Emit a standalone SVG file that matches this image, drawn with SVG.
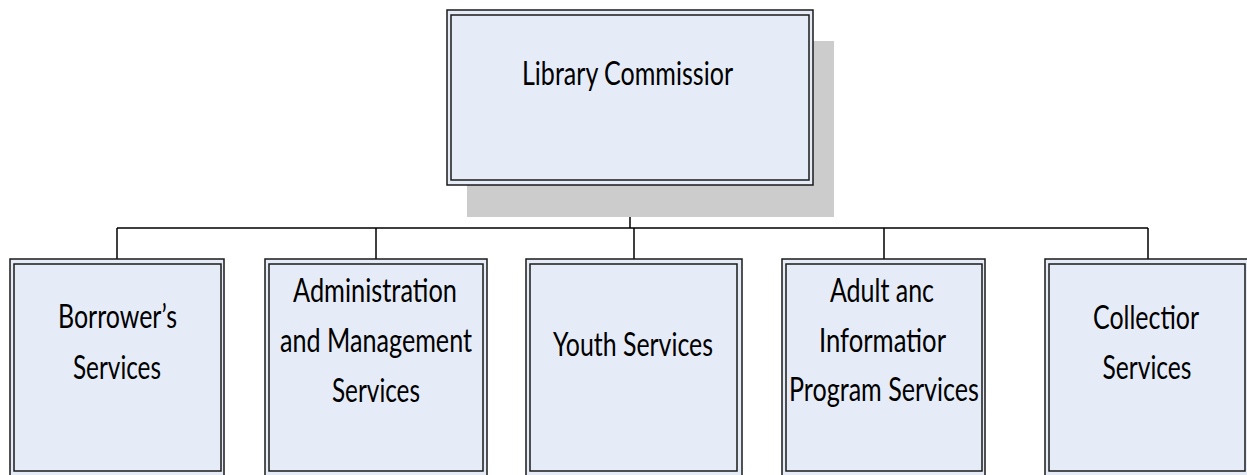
<svg xmlns="http://www.w3.org/2000/svg" width="1247" height="475" viewBox="0 0 1247 475">
<style>
.outer{fill:#e6ecf7;stroke:#1a1a1a;stroke-width:1.5}
.inner{fill:none;stroke:#1a1a1a;stroke-width:1.5}
.shadow{fill:#cccccc}
.lbl{font-family:Lato,"Liberation Sans",sans-serif;font-size:33px;fill:#000;text-anchor:middle}
.conn{fill:none;stroke:#000;stroke-width:1.5}
</style>
<rect width="1247" height="475" fill="#fff"/>
<g id="connectors">
<path class="conn" d="M630 185V228M117 228H1148M117 228V259M376 228V259M634 228V259M884 228V259M1148 228V259"/>
</g>
<g id="library-commission">
<rect class="shadow" x="467" y="41" width="367" height="176"/>
<rect class="outer" x="447" y="10" width="366" height="175"/>
<rect class="inner" x="451" y="15" width="358" height="165"/>
<text class="lbl" x="627.5" y="85" textLength="211" lengthAdjust="spacingAndGlyphs">Library Commissior</text>
</g>
<g id="borrowers-services">
<rect class="outer" x="10" y="259" width="214" height="217"/>
<rect class="inner" x="14" y="264" width="207" height="207"/>
<text class="lbl" x="117.5" y="328" textLength="119" lengthAdjust="spacingAndGlyphs">Borrower’s</text>
<text class="lbl" x="117" y="379" textLength="88" lengthAdjust="spacingAndGlyphs">Services</text>
</g>
<g id="administration-services">
<rect class="outer" x="265" y="259" width="222" height="217"/>
<rect class="inner" x="269" y="264" width="214" height="207"/>
<text class="lbl" x="375" y="302" textLength="164" lengthAdjust="spacingAndGlyphs">Administration</text>
<text class="lbl" x="376" y="352" textLength="192" lengthAdjust="spacingAndGlyphs">and Management</text>
<text class="lbl" x="376" y="402" textLength="88" lengthAdjust="spacingAndGlyphs">Services</text>
</g>
<g id="youth-services">
<rect class="outer" x="526" y="259" width="216" height="217"/>
<rect class="inner" x="530" y="264" width="207" height="207"/>
<text class="lbl" x="633" y="356" textLength="160" lengthAdjust="spacingAndGlyphs">Youth Services</text>
</g>
<g id="adult-information-services">
<rect class="outer" x="782" y="259" width="203" height="217"/>
<rect class="inner" x="786" y="264" width="196" height="207"/>
<text class="lbl" x="882" y="302" textLength="104" lengthAdjust="spacingAndGlyphs">Adult anc</text>
<text class="lbl" x="882.5" y="352" textLength="127" lengthAdjust="spacingAndGlyphs">Informatior</text>
<text class="lbl" x="884" y="401" textLength="190" lengthAdjust="spacingAndGlyphs">Program Services</text>
</g>
<g id="collection-services">
<rect class="outer" x="1045" y="259" width="203" height="217"/>
<rect class="inner" x="1049" y="264" width="196" height="207"/>
<text class="lbl" x="1146" y="329" textLength="106" lengthAdjust="spacingAndGlyphs">Collectior</text>
<text class="lbl" x="1147" y="379" textLength="89" lengthAdjust="spacingAndGlyphs">Services</text>
</g>
</svg>
